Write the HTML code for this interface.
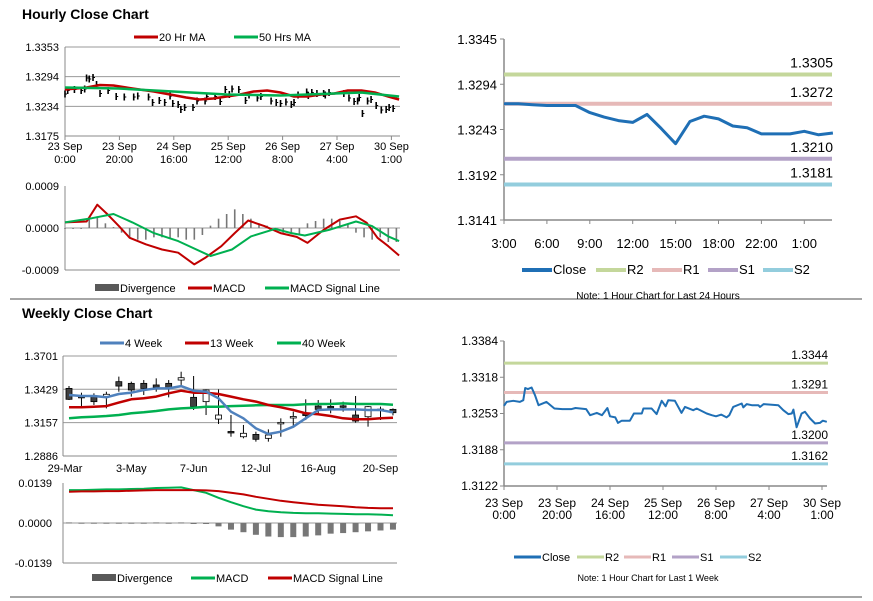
<!DOCTYPE html>
<html><head><meta charset="utf-8"><style>
html,body{margin:0;padding:0;background:#fff;}
svg{display:block;font-family:"Liberation Sans",Arial,sans-serif;}
</style></head><body>
<svg id="s" width="873" height="601" viewBox="0 0 873 601"></svg>
<script>
// ---------- DATA ----------
const tlMa20H=[0,8,13,18,25,33,40,45,50,55,60,65,70,75,80,85,90,95,100,105,110,115,120,124];
const tlMa20V=[1.3268,1.3272,1.3277,1.3276,1.3270,1.3264,1.3257,1.3252,1.3248,1.3250,1.3254,1.3258,1.3264,1.3266,1.3262,1.3254,1.3254,1.3258,1.3260,1.3266,1.3266,1.3262,1.3254,1.3248];
const tlMa50H=[0,20,40,60,80,100,110,124];
const tlMa50V=[1.3272,1.3270,1.3264,1.3258,1.3256,1.3260,1.3262,1.3254];
const tlMacdH=[0,8,12,16,20,24,30,36,42,48,52,58,63,68,74,80,86,90,96,102,108,112,116,120,124];
const tlMacdV=[0.00012,0.00014,0.0005,0.00028,0.00004,-0.00021,-0.00035,-0.00046,-0.00053,-0.00078,-0.00064,-0.00039,-0.00011,0.00016,0.00004,-0.00011,-0.00019,-0.00032,-0.00004,0.00018,0.00025,0.00011,-0.00021,-0.00039,-0.00059];
const tlSigH=[0,10,18,25,33,42,54,62,69,78,84,89,98,108,114,120,124];
const tlSigV=[0.00012,0.00021,0.0003,0.00012,-0.00011,-0.00028,-0.0006,-0.00046,-0.00018,-0.00002,-0.00011,-0.00016,-0.00004,0.00014,0.00004,-0.00018,-0.00028];
const tlDiv=[-0.00002,-0.00002,-0.00002,0.0002,0.00025,0.0001,0.00002,-0.0001,-0.0002,-0.00025,-0.00025,-0.0002,-0.0002,-0.00022,-0.0002,-0.00025,-0.00025,-0.00015,0.00005,0.0002,0.0003,0.0004,0.0003,0.0002,0.0001,0.00005,0,-0.0001,-0.0001,-0.00015,0.0001,0.00015,0.0002,0.0002,0.00015,0.0001,-0.0001,-0.0002,-0.00025,-0.0002,-0.0003,-0.0003];
const wkH=[0,1,3.5,6,7.3,8,9,10.4,11.7,13,16,19,22,25.5,27,31,32.5,35,37,39,40,42,43,44.4,47.5,49,52,52.6,55.7,57.6,59.5,61,62,64.5,67,68.3,71.4,72.7,76.5,78.4,80,82,84,85,86.5,89.7,90.3,91.6,93.5,96,96.6,98,103.5,105.4,107.3,108.6,109.2,110.4,112.3,113.6,115.5,117.4,119.2,120.3,121.8];
const wkV=[1.3267,1.3274,1.3276,1.3274,1.3277,1.3299,1.3297,1.3300,1.3286,1.3268,1.3274,1.3262,1.3261,1.3261,1.3263,1.3261,1.3250,1.3254,1.3250,1.3263,1.3248,1.3246,1.3236,1.3240,1.3240,1.3253,1.3253,1.3262,1.3262,1.3252,1.3276,1.3266,1.3277,1.3276,1.3254,1.3265,1.3259,1.3262,1.3253,1.3250,1.3248,1.3251,1.3246,1.3250,1.3265,1.3271,1.3264,1.3270,1.3268,1.3268,1.3265,1.3270,1.3268,1.3259,1.3252,1.3253,1.3260,1.3228,1.3253,1.3256,1.3244,1.3235,1.3236,1.3240,1.3238];
const dayLabels=["3:00","6:00","9:00","12:00","15:00","18:00","22:00","1:00"];
const dayV=[1.3272,1.3272,1.3271,1.3270,1.3270,1.3270,1.3262,1.3257,1.3253,1.3251,1.3260,1.3244,1.3227,1.3252,1.3258,1.3255,1.3247,1.3245,1.3238,1.3238,1.3238,1.3241,1.3237,1.3239];
const dayLevels=[1.3305,1.3272,1.3210,1.3181];
const wkLevels=[1.3344,1.3291,1.3200,1.3162];
const cOpen=[1.3437,1.3372,1.3370,1.3370,1.3492,1.3478,1.3478,1.3465,1.3478,1.3505,1.3364,1.3329,1.3187,1.3086,1.3043,1.3062,1.3030,1.3156,1.3204,1.3228,1.3293,1.3290,1.3295,1.3220,1.3206,1.3264,1.3266];
const cClose=[1.3348,1.3368,1.3329,1.3389,1.3456,1.3424,1.3437,1.3446,1.3437,1.3524,1.3288,1.3424,1.3220,1.3082,1.3071,1.3022,1.3057,1.3160,1.3208,1.3217,1.3266,1.3286,1.3291,1.3171,1.3288,1.3268,1.3239];
const cHigh=[1.3456,1.3402,1.3397,1.3410,1.3533,1.3492,1.3505,1.3519,1.3505,1.3573,1.3538,1.3429,1.3429,1.3220,1.3139,1.3084,1.3103,1.3193,1.3247,1.3348,1.3342,1.3348,1.3329,1.3375,1.3293,1.3288,1.3274];
const cLow=[1.3342,1.3293,1.3302,1.3274,1.3410,1.3370,1.3383,1.3410,1.3364,1.3465,1.3261,1.3220,1.3147,1.3043,1.3030,1.3003,1.3003,1.3043,1.3125,1.3179,1.3220,1.3234,1.3247,1.3158,1.3125,1.3179,1.3217];
const ma4=[1.3383,1.3375,1.3375,1.3364,1.3391,1.3402,1.3424,1.3437,1.3437,1.3456,1.3418,1.3410,1.3356,1.3247,1.3193,1.3111,1.3065,1.3084,1.3125,1.3193,1.3261,1.3266,1.3266,1.3266,1.3261,1.3261,1.3242];
const ma13=[1.3283,1.3283,1.3288,1.3293,1.3321,1.3348,1.3356,1.3370,1.3397,1.3418,1.3402,1.3402,1.3391,1.3370,1.3348,1.3329,1.3302,1.3283,1.3261,1.3234,1.3226,1.3212,1.3193,1.3185,1.3185,1.3193,1.3198];
const ma40=[1.3193,1.3201,1.3206,1.3212,1.3220,1.3234,1.3242,1.3253,1.3266,1.3274,1.3280,1.3288,1.3288,1.3293,1.3296,1.3299,1.3302,1.3302,1.3302,1.3307,1.3310,1.3310,1.3315,1.3310,1.3310,1.3310,1.3304];
const wMacd=[0.01145,0.01145,0.01157,0.01168,0.01168,0.0118,0.01191,0.01215,0.01226,0.01238,0.01145,0.01051,0.00876,0.00724,0.00584,0.00467,0.00409,0.00374,0.0035,0.00339,0.00339,0.00327,0.00315,0.00304,0.00304,0.00292,0.00269];
const wSig=[0.01086,0.01098,0.01098,0.0111,0.0111,0.01121,0.01133,0.01145,0.01145,0.01145,0.01145,0.01133,0.0111,0.01051,0.00993,0.0091,0.00841,0.00771,0.00724,0.00677,0.00631,0.00607,0.00584,0.00549,0.00526,0.00514,0.00514];
const wDiv=[0.0002,0.0001,0.0001,0.0001,0.0001,0.0001,0.0001,0.0002,0.0001,0.0002,-0.0001,-0.0001,-0.00117,-0.0023,-0.0032,-0.0041,-0.0047,-0.0049,-0.0049,-0.0047,-0.0043,-0.0037,-0.0035,-0.0032,-0.0029,-0.0026,-0.0023];
const wLabels=["29-Mar","3-May","7-Jun","12-Jul","16-Aug","20-Sep"];
const hrLabels=[["23 Sep","0:00"],["23 Sep","20:00"],["24 Sep","16:00"],["25 Sep","12:00"],["26 Sep","8:00"],["27 Sep","4:00"],["30 Sep","1:00"]];
const tlTicks=["1.3353","1.3294","1.3234","1.3175"];
const trTicks=["1.3345","1.3294","1.3243","1.3192","1.3141"];
const brTicks=["1.3384","1.3318","1.3253","1.3188","1.3122"];
const wTicks=["1.3701","1.3429","1.3157","1.2886"];

// ---------- HELPERS ----------
const S=document.getElementById('s');
const NS='http://www.w3.org/2000/svg';
function mk(tag,attrs,name,parent){
  const el=document.createElementNS(NS,tag);
  for(const k in attrs) el.setAttribute(k,attrs[k]);
  
  
  (parent||S).appendChild(el);
  return el;
}
function txt(x,y,t,name,o){
  o=o||{};
  const el=mk('text',{x:x,y:y,'font-size':o.fs||11,'text-anchor':o.a||'start',fill:o.fill||'#000','font-weight':o.fw||'normal'},name);
  el.textContent=t;return el;
}
function line(x1,y1,x2,y2,c,w,name){return mk('line',{x1:x1,y1:y1,x2:x2,y2:y2,stroke:c,'stroke-width':w},name);}
function poly(xs,ys,c,w,name){
  let d='';for(let i=0;i<xs.length;i++)d+=(i?'L':'M')+xs[i].toFixed(1)+' '+ys[i].toFixed(1);
  return mk('path',{d:d,fill:'none',stroke:c,'stroke-width':w,'stroke-linejoin':'round'},name);
}
function legend(items,y,name){
  const g=mk('g',{},name);
  items.forEach(it=>{
    const e=mk('g',{},'legend-entry',g);
    if(it.box) mk('rect',{x:it.x,y:y-4,width:it.w||24,height:7,fill:it.c},'legend-swatch',e);
    else mk('line',{x1:it.x,y1:y,x2:it.x+(it.w||24),y2:y,stroke:it.c,'stroke-width':it.sw||3},'legend-swatch',e);
    const t=mk('text',{x:it.x+(it.w||24)+1,y:y+4,'font-size':it.fs||11},'legend-label',e);t.textContent=it.t;
  });
}
const GRID='#999', AX='#888';

txt(22,19,'Hourly Close Chart','hourly-title',{fs:14,fw:'bold'});
txt(22,318,'Weekly Close Chart','weekly-title',{fs:14,fw:'bold'});
line(10,299,862,299,'#888',1.5,'separator-top');
line(10,597,862,597,'#888',1.5,'separator-bottom');

// ---------- TOP-LEFT PRICE ----------
const tlX=h=>65+h*(326/121);
const tlY=v=>47+(1.3353-v)/0.0178*89;
legend([{x:134,c:'#c00000',t:'20 Hr MA'},{x:234,c:'#00b050',t:'50 Hrs MA'}],37,'hourly-legend');
tlTicks.forEach((t,i)=>{const y=47+i*29.67;
  if(i<3) line(65,y,400,y,GRID,1,'gridline');
  txt(59,y+4,t,'y-tick-label',{a:'end'});});
line(65,47,65,136,AX,1,'y-axis');line(65,136,400,136,AX,1,'x-axis');
hrLabels.forEach((l,i)=>{const x=65+i*54.4;line(x,136,x,140,AX,1,'x-tick');
  txt(x,150,l[0],'x-tick-label',{a:'middle'});txt(x,163,l[1],'x-tick-label',{a:'middle'});});
wkH.forEach((h,i)=>{const x=tlX(h),v=wkV[i]-0.0008;
  line(x,tlY(v+0.0007),x,tlY(v-0.0007),'#000',1.6,'price-bar');
  line(x,tlY(v),x+2,tlY(v),'#000',1,'price-bar-tick');});
poly(tlMa20H.map(tlX),tlMa20V.map(tlY),'#c00000',2.5,'ma20-line');
poly(tlMa50H.map(tlX),tlMa50V.map(tlY),'#00b050',2.5,'ma50-line');

// ---------- TOP-LEFT MACD ----------
const tmY=v=>228-v/0.0009*42;
['0.0009','0.0000','-0.0009'].forEach((t,i)=>txt(59,186+i*42+4,t,'y-tick-label',{a:'end'}));
line(65,186,65,270,AX,1,'y-axis');line(65,270,400,270,AX,1,'x-axis');line(65,228,400,228,GRID,1,'zero-line');
tlDiv.forEach((v,i)=>{const x=tlX(i*3);mk('rect',{x:x-0.8,y:Math.min(tmY(v),228),width:1.6,height:Math.abs(tmY(v)-228),fill:'#777'},'divergence-bar');});
poly(tlMacdH.map(tlX),tlMacdV.map(tmY),'#c00000',2,'macd-line');
poly(tlSigH.map(tlX),tlSigV.map(tmY),'#00b050',2,'signal-line');
legend([{x:95,c:'#595959',t:'Divergence',box:1},{x:188,c:'#c00000',t:'MACD'},{x:265,c:'#00b050',t:'MACD Signal Line'}],288,'macd-legend');

// ---------- TOP-RIGHT 24H ----------
const trX=i=>504+i*14.3;
const trY=v=>39+(1.3345-v)/0.0204*181;
const lvlC=['#c4d79b','#e6b9b8','#b3a2c7','#93cddd'];
trTicks.forEach((t,i)=>{const y=39+i*45.25;line(500,y,504,y,AX,1,'y-tick');txt(497,y+5,t,'y-tick-label',{a:'end',fs:13});});
line(504,39,504,220,AX,1.5,'y-axis');line(504,220,832,220,AX,1.5,'x-axis');
dayLabels.forEach((l,k)=>{const x=trX(k*3);line(x,220,x,224,AX,1,'x-tick');txt(x,248,l,'x-tick-label',{a:'middle',fs:13});});
dayLevels.forEach((v,i)=>{line(504,trY(v),832,trY(v),lvlC[i],4,'level-line-'+['r2','r1','s1','s2'][i]);
  txt(833,trY(v)-7,v.toFixed(4),'level-label',{a:'end',fs:14});});
poly(dayV.map((v,i)=>trX(i)),dayV.map(trY),'#1f6fb5',3,'close-line');
legend([{x:522,c:'#1f6fb5',t:'Close',w:30,fs:13,sw:4},{x:596,c:'#c4d79b',t:'R2',w:30,fs:13,sw:4},{x:652,c:'#e6b9b8',t:'R1',w:30,fs:13,sw:4},{x:708,c:'#b3a2c7',t:'S1',w:30,fs:13,sw:4},{x:763,c:'#93cddd',t:'S2',w:30,fs:13,sw:4}],270,'day-legend');
txt(658,299,'Note: 1 Hour Chart for Last 24 Hours','note',{a:'middle',fs:10});

// ---------- WEEKLY PRICE ----------
const wX=i=>69+i*12.46;
const wY=v=>356+(1.3701-v)/0.0815*100;
legend([{x:100,c:'#4f81bd',t:'4 Week'},{x:185,c:'#c00000',t:'13 Week'},{x:277,c:'#00b050',t:'40 Week'}],343,'weekly-legend');
wTicks.forEach((t,i)=>{const y=356+i*33.3;if(i<3)line(63,y,397,y,GRID,1,'gridline');txt(58,y+4,t,'y-tick-label',{a:'end'});});
line(63,356,63,456,AX,1,'y-axis');line(63,456,397,456,AX,1,'x-axis');
wLabels.forEach((l,k)=>{const x=wX(k*5);txt(x-(k==0?4:0),472,l,'x-tick-label',{a:'middle'});});
cOpen.forEach((o,i)=>{const x=wX(i),c=cClose[i];
  line(x,wY(cHigh[i]),x,wY(cLow[i]),'#000',1,'candle-wick');
  const top=wY(Math.max(o,c)),h=Math.max(1.5,Math.abs(wY(o)-wY(c)));
  mk('rect',{x:x-3,y:top,width:6,height:h,fill:c<o?'#404040':'#fff',stroke:'#000','stroke-width':0.8},'candle-body');});
poly(ma40.map((v,i)=>wX(i)),ma40.map(wY),'#00b050',2.5,'ma40-line');
poly(ma13.map((v,i)=>wX(i)),ma13.map(wY),'#c00000',2.5,'ma13-line');
poly(ma4.map((v,i)=>wX(i)),ma4.map(wY),'#4f81bd',2.5,'ma4-line');

// ---------- WEEKLY MACD ----------
const wmY=v=>523-v/0.0139*40;
['0.0139','0.0000','-0.0139'].forEach((t,i)=>txt(52,483+i*40+4,t,'y-tick-label',{a:'end'}));
line(63,483,63,563,AX,1,'y-axis');line(63,563,397,563,AX,1,'x-axis');line(63,523,397,523,GRID,1,'zero-line');
wDiv.forEach((v,i)=>{const x=wX(i);mk('rect',{x:x-3,y:Math.min(wmY(v),523),width:6,height:Math.max(1,Math.abs(wmY(v)-523)),fill:'#777'},'divergence-bar');});
poly(wMacd.map((v,i)=>wX(i)),wMacd.map(wmY),'#00b050',2,'weekly-macd-line');
poly(wSig.map((v,i)=>wX(i)),wSig.map(wmY),'#c00000',2,'weekly-signal-line');
legend([{x:92,c:'#595959',t:'Divergence',box:1},{x:191,c:'#00b050',t:'MACD'},{x:268,c:'#c00000',t:'MACD Signal Line'}],578,'weekly-macd-legend');

// ---------- BOTTOM-RIGHT WEEK ----------
const brX=h=>504+h*2.65;
const brY=v=>341+(1.3384-v)/0.0262*145;
brTicks.forEach((t,i)=>{const y=341+i*36.25;line(500,y,504,y,AX,1,'y-tick');txt(498,y+4,t,'y-tick-label',{a:'end',fs:12});});
line(504,341,504,486,AX,1.5,'y-axis');line(504,486,827,486,AX,1.5,'x-axis');
hrLabels.forEach((l,k)=>{const x=504+k*53;line(x,486,x,490,AX,1,'x-tick');
  txt(x,507,l[0],'x-tick-label',{a:'middle',fs:12});txt(x,519,l[1],'x-tick-label',{a:'middle',fs:12});});
wkLevels.forEach((v,i)=>{line(504,brY(v),828,brY(v),lvlC[i],3,'level-line-'+['r2','r1','s1','s2'][i]);
  txt(828,brY(v)-4,v.toFixed(4),'level-label',{a:'end',fs:12});});
poly(wkH.map(brX),wkV.map(brY),'#1f6fb5',2,'week-close-line');
legend([{x:514,c:'#1f6fb5',t:'Close',w:27,sw:3},{x:577,c:'#c4d79b',t:'R2',w:27,sw:3},{x:624,c:'#e6b9b8',t:'R1',w:27,sw:3},{x:672,c:'#b3a2c7',t:'S1',w:27,sw:3},{x:720,c:'#93cddd',t:'S2',w:27,sw:3}],557,'week-legend');
txt(648,581,'Note: 1 Hour Chart for  Last 1 Week','note',{a:'middle',fs:9});
</script>
</body></html>
